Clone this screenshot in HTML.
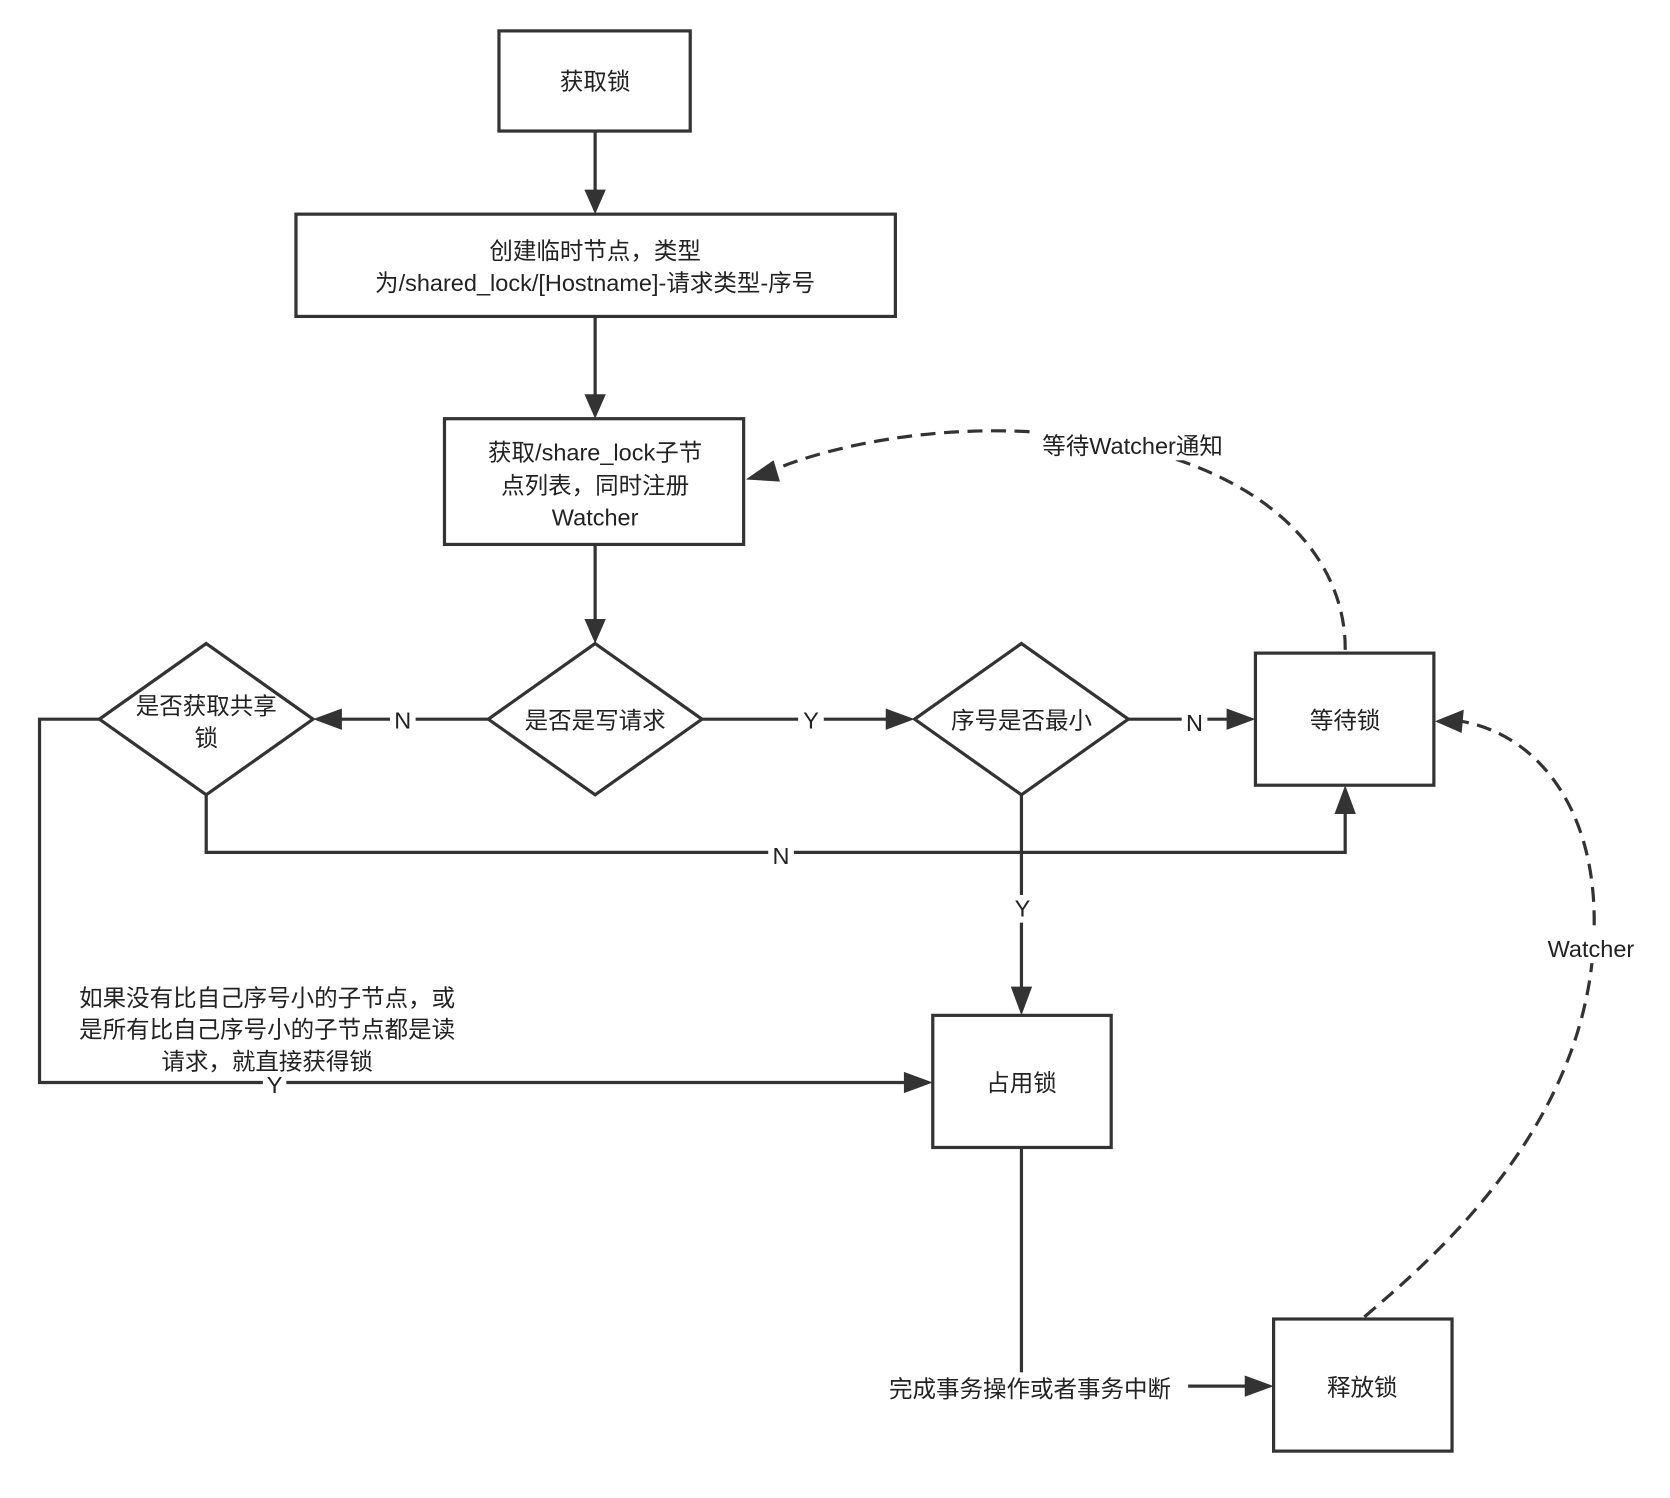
<!DOCTYPE html>
<html><head><meta charset="utf-8"><style>
html,body{margin:0;padding:0;background:#fff;}
svg{display:block;}
text{font-family:"Liberation Sans","Noto Sans CJK SC",sans-serif;font-size:22px;fill:#222;}
</style></head><body>
<svg width="1670" height="1498" viewBox="0 0 1563 1406" preserveAspectRatio="none" xmlns="http://www.w3.org/2000/svg">
<defs>
<marker id="a" markerWidth="10" markerHeight="10" refX="9" refY="5" orient="auto" markerUnits="userSpaceOnUse" viewBox="0 0 10 10">
</marker>
</defs>
<g fill="none" stroke="#333" stroke-width="3">
<rect x="467" y="29" width="179" height="94"/>
<rect x="277" y="201" width="561" height="96"/>
<rect x="416" y="393" width="280" height="118"/>
<polygon points="557,604 657,675 557,746 457,675"/>
<polygon points="193,604 293,675 193,746 93,675"/>
<polygon points="956,604 1056,675 956,746 856,675"/>
<rect x="1175" y="613" width="167" height="124"/>
<rect x="873" y="953" width="167" height="124"/>
<rect x="1192" y="1238" width="167" height="124"/>
<line x1="557" y1="123" x2="557" y2="180"/>
<line x1="557" y1="297" x2="557" y2="372"/>
<line x1="557" y1="511" x2="557" y2="583"/>
<line x1="457" y1="675" x2="318" y2="675"/>
<line x1="657" y1="675" x2="832" y2="675"/>
<line x1="1056" y1="675" x2="1150" y2="675"/>
<polyline points="193,746 193,800 1259,800 1259,762"/>
<polyline points="93,675 37,675 37,1016 848,1016"/>
<line x1="956" y1="746" x2="956" y2="928"/>
<polyline points="956,1077 956,1301 1168,1301"/>
<path d="M1259,610 C1260,520 1180,420 960,405 C850,400 760,425 722,442" stroke-dasharray="14,8"/>
<path d="M1277,1236 C1330,1190 1490,1060 1492,870 C1494,760 1440,690 1368,677" stroke-dasharray="14,8"/>
</g>
<g fill="#333">
<polygon points="557,201 547,178 567,178"/>
<polygon points="557,393 547,370 567,370"/>
<polygon points="557,604 547,581 567,581"/>
<polygon points="293,675 320,665 320,685"/>
<polygon points="856,675 829,665 829,685"/>
<polygon points="1175,675 1148,665 1148,685"/>
<polygon points="1259,737 1249,764 1269,764"/>
<polygon points="873,1016 846,1006 846,1026"/>
<polygon points="956,953 946,926 966,926"/>
<polygon points="1192,1301 1165,1291 1165,1311"/>
<polygon points="698,450 724,432 730,452"/>
<polygon points="1343,677 1370,666 1368,688"/>
</g>
<g text-anchor="middle">
<text x="557" y="84">获取锁</text>
<text x="557" y="243">创建临时节点，类型</text>
<text x="557" y="273">为/shared_lock/[Hostname]-请求类型-序号</text>
<text x="557" y="432">获取/share_lock子节</text>
<text x="557" y="463">点列表，同时注册</text>
<text x="557" y="493">Watcher</text>
<text x="557" y="684">是否是写请求</text>
<text x="193" y="670">是否获取共享</text>
<text x="193" y="700">锁</text>
<text x="956" y="684">序号是否最小</text>
<text x="1259" y="684">等待锁</text>
<text x="956" y="1024">占用锁</text>
<text x="1275" y="1310">释放锁</text>
</g>
<g text-anchor="middle">
<rect x="365" y="663" width="24" height="24" fill="#fff"/><text x="377" y="684">N</text>
<rect x="747" y="663" width="24" height="24" fill="#fff"/><text x="759" y="684">Y</text>
<rect x="1106" y="663" width="24" height="24" fill="#fff"/><text x="1118" y="686">N</text>
<rect x="719" y="790" width="24" height="24" fill="#fff"/><text x="731" y="811">N</text>
<rect x="944" y="840" width="24" height="26" fill="#fff"/><text x="957" y="860">Y</text>
<text x="250" y="944">如果没有比自己序号小的子节点，或</text>
<text x="250" y="974">是所有比自己序号小的子节点都是读</text>
<text x="250" y="1004">请求，就直接获得锁</text>
<rect x="246" y="1006" width="22" height="22" fill="#fff"/><text x="257" y="1026">Y</text>
<rect x="818" y="1288" width="294" height="28" fill="#fff"/><text x="964" y="1311">完成事务操作或者事务中断</text>
<rect x="966" y="404" width="190" height="28" fill="#fff"/><text x="1060" y="426">等待Watcher通知</text>
<rect x="1442" y="876" width="94" height="28" fill="#fff"/><text x="1489" y="898">Watcher</text>
</g>
</svg>
</body></html>
